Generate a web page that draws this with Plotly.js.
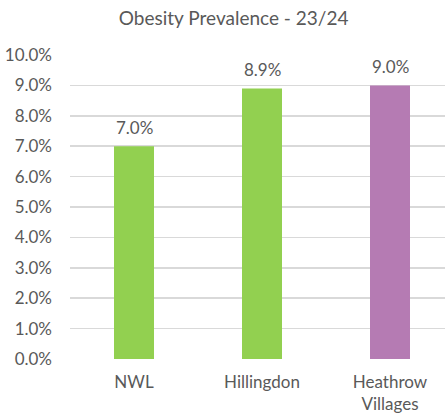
<!DOCTYPE html>
<html>
<head>
<meta charset="utf-8">
<script src="https://cdn.plot.ly/plotly-3.0.1.min.js"></script>
<style>
  html, body { margin: 0; padding: 0; background: #fff; }
  #chart { width: 445px; height: 416px; }
</style>
</head>
<body>
<div id="chart"></div>
<script>
// Obesity prevalence by area, 2023/24 (fractions)
const areas = ["NWL", "Hillingdon", "Heathrow<br>Villages"];
const prevalence = [0.070, 0.089, 0.090];
const barColors = ["#92D050", "#92D050", "#B57BB3"];
const yTicks = [0, 0.01, 0.02, 0.03, 0.04, 0.05, 0.06, 0.07, 0.08, 0.09, 0.10];

const textColor = "#595959";
const fontFamily = "Lato, 'Open Sans', sans-serif";

const trace = {
  type: "bar",
  x: areas,
  y: prevalence,
  marker: { color: barColors, line: { width: 0 } },
  width: 0.3125,
  hoverinfo: "skip"
};

// value labels above each bar
const labels = areas.map((a, i) => ({
  x: a,
  y: prevalence[i],
  xref: "x",
  yref: "y",
  text: (prevalence[i] * 100).toFixed(1) + "%",
  showarrow: false,
  yanchor: "bottom",
  yshift: 6,
  font: { family: fontFamily, size: 17, color: textColor }
}));

const layout = {
  width: 445,
  height: 416,
  margin: { l: 70, r: 0, t: 55, b: 57, pad: 0 },
  paper_bgcolor: "#fff",
  plot_bgcolor: "#fff",
  showlegend: false,
  title: {
    text: "Obesity Prevalence - 23/24",
    x: 0.525,
    xanchor: "center",
    y: 1 - 18 / 416,
    yanchor: "middle",
    yref: "container",
    font: { family: fontFamily, size: 19, color: textColor }
  },
  xaxis: {
    type: "category",
    range: [-0.5, -0.5 + 375 / 128],
    showgrid: false,
    showline: false,
    zeroline: false,
    ticks: "",
    ticklabelstandoff: 11,
    tickfont: { family: fontFamily, size: 17, color: textColor }
  },
  yaxis: {
    range: [0, 0.10],
    tickvals: yTicks,
    tickformat: ".1%",
    showgrid: true,
    gridcolor: "#D9D9D9",
    gridwidth: 1.6,
    zeroline: false,
    showline: false,
    ticks: "",
    ticklabelstandoff: 17,
    tickfont: { family: fontFamily, size: 17, color: textColor }
  },
  annotations: labels
};

Plotly.newPlot("chart", [trace], layout, { staticPlot: true, displayModeBar: false });
</script>
</body>
</html>
